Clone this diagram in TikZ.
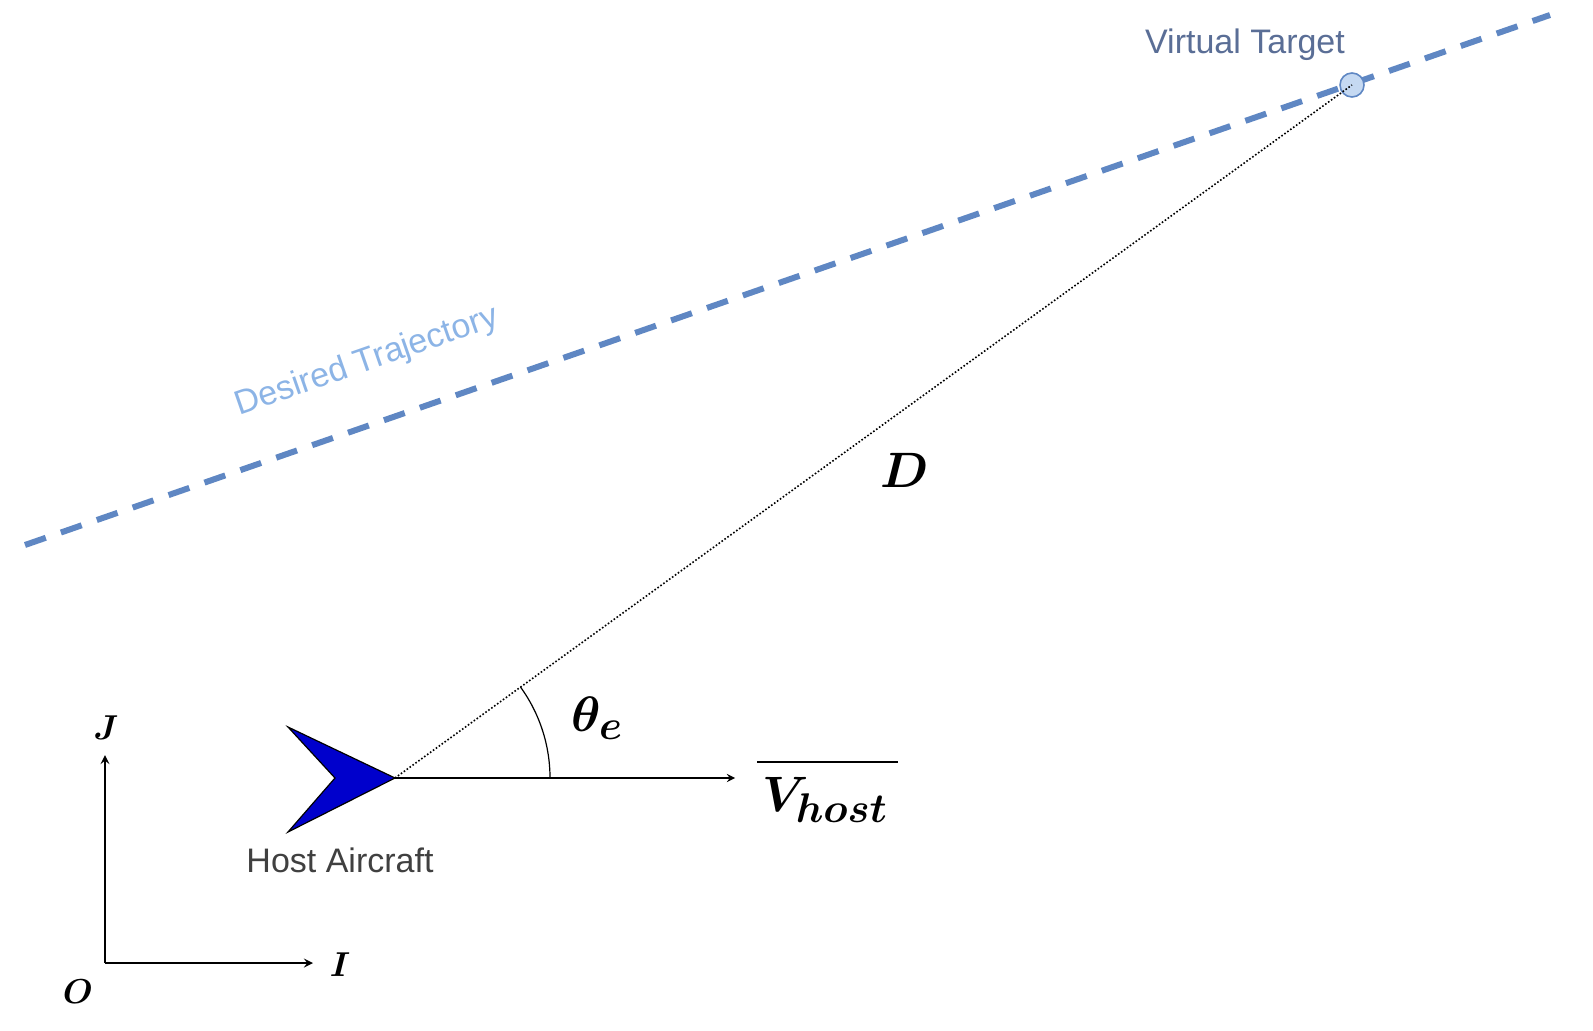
\documentclass[tikz,border=0pt]{standalone}
\usepackage{amsmath,bm}
\usepackage{fontspec}
\setmainfont{Liberation Sans}
\begin{document}
\begin{tikzpicture}[x=0.5pt,y=-0.5pt,
  lbl/.style={font=\fontsize{17}{19}\selectfont},
  mth/.style={font=\fontsize{29}{31}\selectfont}]
\useasboundingbox (0,0) rectangle (1593,1031);
\definecolor{traj}{RGB}{95,135,195}
\definecolor{trajtxt}{RGB}{140,180,230}
\definecolor{vt}{RGB}{90,110,150}
% trajectory
\draw[traj,line width=3pt,dash pattern=on 11pt off 8pt] (25,545) -- (1550,15);
\node[lbl,text=trajtxt,rotate=19.2,inner sep=0pt] (dt) at (367,362) {Desired Trajectory};
% target
\node[circle,draw=traj,fill=trajtxt!50,line width=0.8pt,minimum size=12pt,inner sep=0pt] (vt) at (1352,85) {};
\node[lbl,text=vt] (vtl) at (1245,45) {Virtual Target};
% aircraft
\coordinate (nose) at (395,778);
\draw[fill=blue!80!black,line width=0.6pt] (288,727) -- (nose) -- (288,832) -- (335,778) -- cycle;
\node[lbl,text=black!75] (ha) at (340,860) {Host Aircraft};
% LOS
\draw[densely dotted,line width=0.8pt] (nose) -- (vt.center);
\node[mth] (D) at (905,470) {$\bm{D}$};
% velocity
\coordinate (vend) at (735,778);
\draw[-stealth,line width=0.8pt] (nose) -- (vend);
\node[mth] (vh) at (825,800) {$\bm{V_{host}}$};
\draw[line width=0.8pt] (757,762) -- (898,762);
% angle
\draw[line width=0.6pt] (550,778) arc[start angle=0,end angle=35.9,radius=77.5pt];
\node[mth] (th) at (597,718) {$\bm{\theta_e}$};
% axes
\coordinate (O) at (105,963);
\coordinate (Jt) at (105,755);
\coordinate (It) at (313,963);
\draw[-stealth,line width=1pt] (O) -- (Jt);
\draw[-stealth,line width=1pt] (O) -- (It);
\node[font=\fontsize{16}{18}\selectfont] (J) at (106,728) {$\bm{J}$};
\node[font=\fontsize{16}{18}\selectfont] (I) at (340,965) {$\bm{I}$};
\node[font=\fontsize{16}{18}\selectfont] (Ol) at (78,992) {$\bm{O}$};
\end{tikzpicture}
\end{document}
